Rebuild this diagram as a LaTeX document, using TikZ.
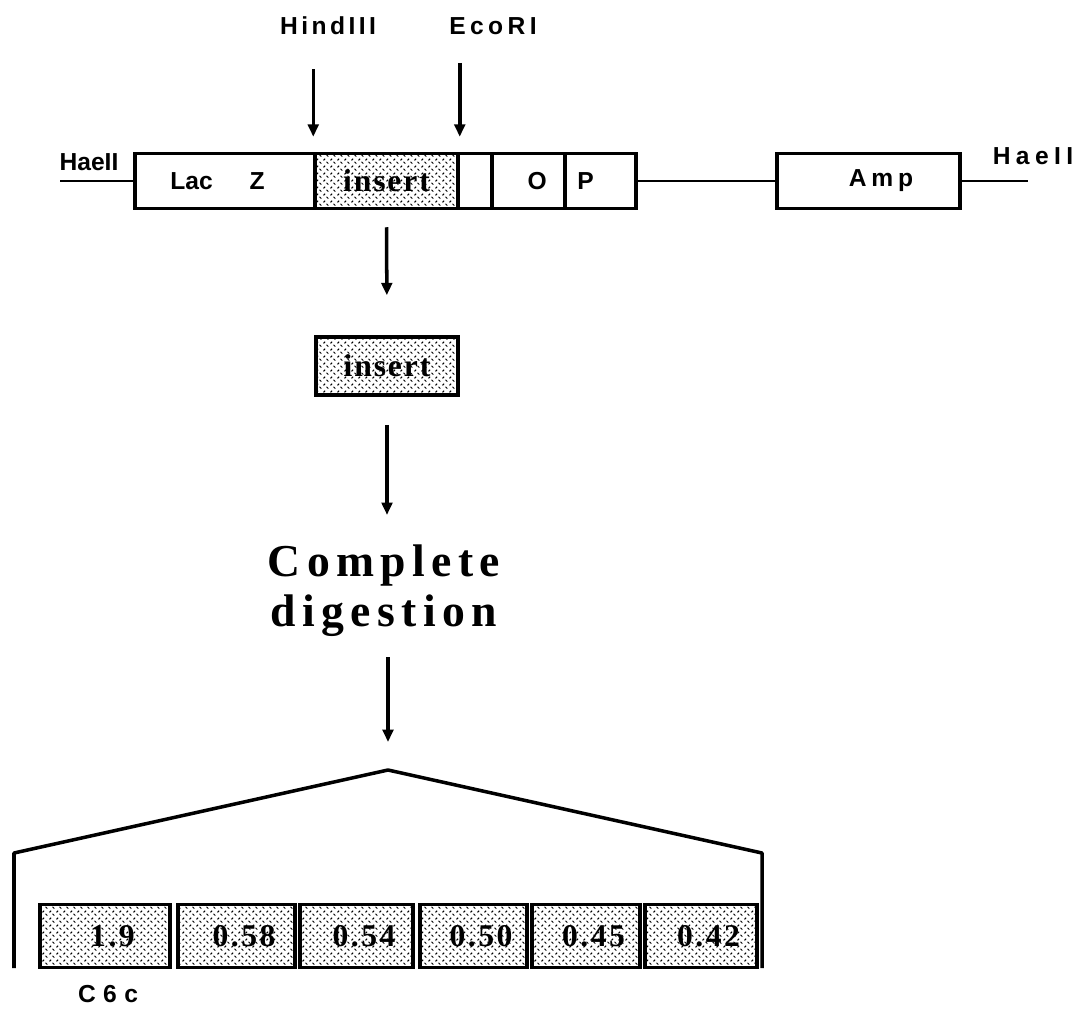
\documentclass[tikz,border=0pt]{standalone}
\usepackage{fontspec}
\setmainfont{Liberation Serif}
\setsansfont{Liberation Sans}
\usepackage{tikz}
\usetikzlibrary{arrows.meta,patterns.meta}

\tikzdeclarepattern{
  name=plate, type=uncolored,
  bottom left={(0pt,0pt)}, top right={(4pt,4pt)}, tile size={(4pt,4pt)},
  code={
    \draw[line width=0.6pt] (0.3pt,2.3pt) -- (1.4pt,3.4pt);
    \draw[line width=0.6pt] (2.3pt,1.4pt) -- (3.4pt,0.3pt);
  }}

\begin{document}
\begin{tikzpicture}[x=0.02cm, y=-0.02cm,
    box/.style={draw, line width=2pt, inner sep=0pt, minimum height=1.1cm,
      font=\sffamily\bfseries\fontsize{14}{16}\selectfont},
    dotbox/.style={box, pattern=plate, font=\bfseries\fontsize{18}{20}\selectfont},
    lab/.style={inner sep=0pt, font=\sffamily\bfseries\fontsize{14}{16}\selectfont},
    arr/.style={line width=2pt, -{Triangle[width=6pt,length=7pt]}},
    wire/.style={line width=1.5pt}]
    \useasboundingbox (0,0) rectangle (1092,1014);

    % vector
    \node[box, minimum width=3.6cm] (lacz) at (225,181) {Lac\hspace{1.5em}Z\hspace*{0.3cm}};
    \node[dotbox, minimum width=2.86cm] (ins) at (386.5,181) {\addfontfeature{LetterSpace=6}insert};
    \node[box, minimum width=0.68cm] (gap) at (475,181) {};
    \node[box, minimum width=1.46cm] (obox) at (528.5,181) {\hspace*{0.35cm}O};
    \node[box, minimum width=1.42cm] (pbox) at (600.5,181) {P\hspace*{0.6cm}};
    \node[box, minimum width=3.66cm] (amp) at (868.5,181) {\hspace*{0.5cm}\addfontfeature{LetterSpace=20}Amp};
    \coordinate (lend) at (60,181);
    \coordinate (rend) at (1028,181);
    \draw[wire] (lend) -- (lacz.west);
    \draw[wire] (pbox.east) -- (amp.west);
    \draw[wire] (amp.east) -- (rend);
    \node[lab] (hl) at (89,162) {HaeII};
    \node[lab] (hr) at (1033,156) {\addfontfeature{LetterSpace=22}HaeII};

    % sites
    \node[lab] (hind) at (328,26) {\addfontfeature{LetterSpace=14}HindIII};
    \node[lab] (eco) at (493,26) {\addfontfeature{LetterSpace=18}EcoRI};
    \draw[arr, shorten <=0.68cm, shorten >=0.3cm] (hind.south -| ins.north west) -- (ins.north west);
    \draw[arr, shorten <=0.56cm, shorten >=0.3cm] (eco.south -| ins.north east) -- (ins.north east);

    % digestion
    \node[dotbox, minimum width=2.84cm, minimum height=1.16cm] (ins2) at (387,366)
      {\addfontfeature{LetterSpace=6}insert};
    \draw[arr, shorten <=0.34cm, shorten >=0.8cm] (ins.south) -- (ins2.north);
    \node[inner sep=0pt, font=\bfseries\fontsize{26}{30}\selectfont] (comp) at (384,566)
      {\addfontfeature{LetterSpace=14}Complete};
    \node[inner sep=0pt, font=\bfseries\fontsize{26}{30}\selectfont] (dig) at (384,616)
      {\addfontfeature{LetterSpace=14}digestion};
    \draw[arr, shorten <=0.56cm, shorten >=0.6cm] (ins2.south) -- (comp.north -| ins2.south);
    \coordinate (apex) at (388,770);
    \draw[arr, shorten <=0.4cm, shorten >=0.56cm] (dig.south -| apex) -- (apex);
    \draw[line width=2pt, line join=round] (14,968) -- (14,853) -- (apex) -- (762,853) -- (762,968);

    % fragments
    \foreach \n/\cx/\w/\t in {a/105/2.6/1.9, b/236.5/2.34/0.58, c/356.5/2.26/0.54,
        d/473.5/2.14/0.50, e/586/2.16/0.45, f/701/2.24/0.42}
      \node[dotbox, minimum width=\w cm, minimum height=1.26cm] (f\n) at (\cx,936)
        {\hspace*{0.3cm}\addfontfeature{LetterSpace=8}\t};
    \node[lab] (c6c) at (108,994) {\addfontfeature{LetterSpace=30}C6c};
\end{tikzpicture}
\end{document}
